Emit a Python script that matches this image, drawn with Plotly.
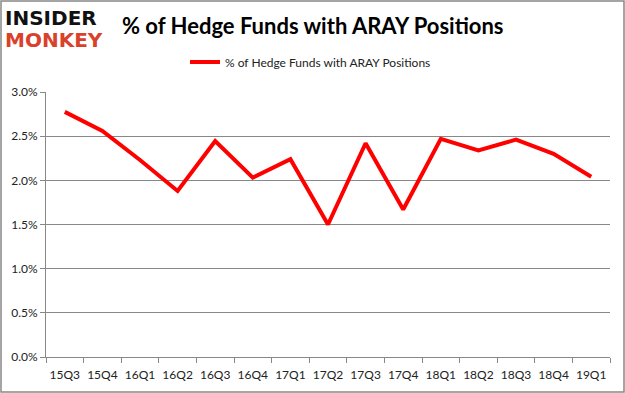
import plotly.graph_objects as go

quarters = ["15Q3", "15Q4", "16Q1", "16Q2", "16Q3", "16Q4", "17Q1", "17Q2",
            "17Q3", "17Q4", "18Q1", "18Q2", "18Q3", "18Q4", "19Q1"]
pct_values = [2.775, 2.56, 2.23, 1.88, 2.445, 2.03, 2.24, 1.50,
              2.42, 1.67, 2.47, 2.34, 2.46, 2.30, 2.04]
y_ticks = [0.0, 0.5, 1.0, 1.5, 2.0, 2.5, 3.0]
y_tick_labels = ["0.0%", "0.5%", "1.0%", "1.5%", "2.0%", "2.5%", "3.0%"]
series_name = "% of Hedge Funds with ARAY Positions"

W, H = 625, 393
L, R, T, B = 46, 15, 92, 36
pw, ph = W - L - R, H - T - B

fig = go.Figure()
fig.add_trace(go.Scatter(
    x=quarters, y=pct_values, mode="lines", name=series_name,
    line=dict(color="#ff0000", width=4), showlegend=True))

font_main = "Lato, 'Open Sans', sans-serif"
fig.update_layout(
    width=W, height=H,
    margin=dict(l=L, r=R, t=T, b=B, autoexpand=False),
    paper_bgcolor="white", plot_bgcolor="white",
    font=dict(family=font_main, size=12, color="#222"),
    showlegend=True,
    legend=dict(orientation="h", x=(185 - L) / pw, xanchor="left",
                y=1 + (T - 62) / ph, yanchor="middle",
                font=dict(size=12, color="#222"), itemwidth=30,
                bgcolor="rgba(0,0,0,0)"),
    xaxis=dict(type="category", showgrid=False, showline=True, linecolor="#888",
               linewidth=1, ticks="outside", tickson="boundaries", ticklen=5,
               tickcolor="#888", tickfont=dict(size=12, color="#222"),
               tickangle=0, automargin=False, ticklabelstandoff=7,
               range=[-0.5, len(quarters) - 0.5], fixedrange=True),
    yaxis=dict(range=[0, 3.0], tickvals=y_ticks, ticktext=y_tick_labels,
               showgrid=True, gridcolor="#888", gridwidth=1, showline=True,
               linecolor="#888", linewidth=1, ticks="outside", ticklen=5,
               tickcolor="#888", tickfont=dict(size=12, color="#222"),
               zeroline=False, fixedrange=True, automargin=False),
)

# Title
fig.add_annotation(text="<b>% of Hedge Funds with ARAY Positions</b>",
                   xref="paper", yref="paper",
                   x=(120 - L) / pw, y=1 + (T - 25) / ph,
                   xanchor="left", yanchor="middle", showarrow=False,
                   font=dict(family=font_main, size=22, color="#000"))
# Logo
fig.add_annotation(text="<b>INSIDER</b>", xref="paper", yref="paper",
                   x=(3 - L) / pw, y=1 + (T - 18) / ph,
                   xanchor="left", yanchor="middle", showarrow=False,
                   font=dict(family="DejaVu Sans", size=20, color="#111"))
fig.add_annotation(text="<b>MONKEY</b>", xref="paper", yref="paper",
                   x=(3 - L) / pw, y=1 + (T - 40) / ph,
                   xanchor="left", yanchor="middle", showarrow=False,
                   font=dict(family="DejaVu Sans", size=20, color="#d9412b"))

# Border
fig.add_shape(type="rect", xref="paper", yref="paper",
              x0=(1 - L) / pw, x1=(W - 1 - L) / pw,
              y0=-(B - 1) / ph, y1=1 + (T - 1) / ph,
              line=dict(color="#888", width=1.5), fillcolor="rgba(0,0,0,0)",
              layer="below")

fig.write_html("out.html", config={"displayModeBar": False},
               post_script="document.body.style.margin='0';")
